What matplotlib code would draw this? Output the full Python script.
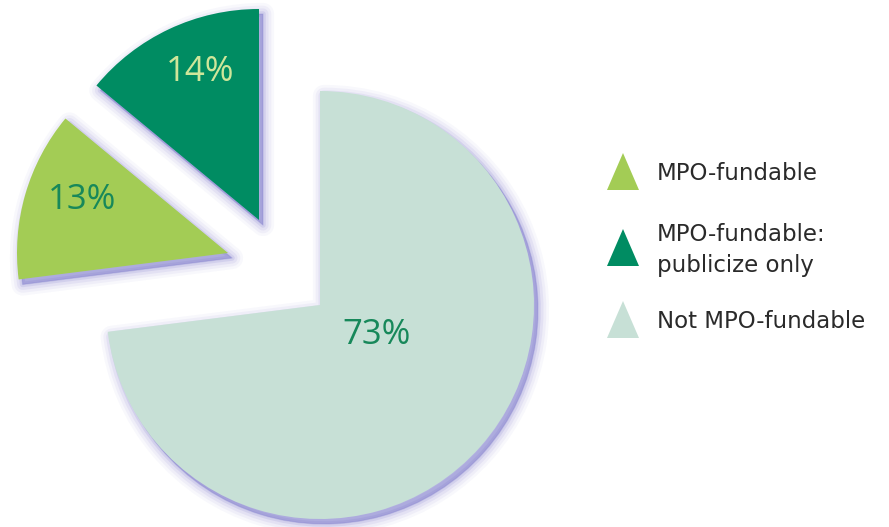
import matplotlib
matplotlib.use("Agg")
import matplotlib.pyplot as plt
from matplotlib.patches import Wedge, Polygon
import numpy as np

# ---- data ----
categories = ["MPO-fundable", "MPO-fundable:\npublicize only", "Not MPO-fundable"]
values = [13, 14, 73]
labels = ["13%", "14%", "73%"]

colors = ["#a3cc55", "#008c62", "#c7e0d6"]
label_colors = ["#17885a", "#cfe69a", "#17885a"]

W, H = 889, 527
fig = plt.figure(figsize=(W / 100, H / 100), dpi=100)
ax = fig.add_axes([0, 0, 1, 1])
ax.set_xlim(0, W)
ax.set_ylim(0, H)
ax.set_aspect("equal")
ax.axis("off")

# angles: big slice runs clockwise from 12 o'clock, small ones fill the rest
total = float(sum(values))
angles = {}
a0 = 90.0 - 360.0 * values[2] / total
angles[2] = (a0, 90.0)
angles[1] = (90.0, 90.0 + 360.0 * values[1] / total)
angles[0] = (angles[1][1], angles[1][1] + 360.0 * values[0] / total)

centers = {2: (320, H - 305), 1: (259, H - 220), 0: (228, H - 253)}
radii = {2: 214, 1: 211, 0: 211}
label_pos = {2: (377, H - 335), 1: (200, H - 72), 0: (82, H - 200)}

shadow = "#7c78cc"
order = [2, 1, 0]
for i in order:
    cx, cy = centers[i]
    t1, t2 = angles[i]
    for lw, al in [(16, 0.05), (12, 0.07), (8, 0.10), (4, 0.16), (1, 0.25)]:
        ax.add_patch(Wedge((cx + 4, cy - 5), radii[i], t1, t2,
                           facecolor=shadow, edgecolor=shadow, linewidth=lw,
                           alpha=al, joinstyle="round"))
for i in order:
    cx, cy = centers[i]
    t1, t2 = angles[i]
    ax.add_patch(Wedge((cx, cy), radii[i], t1, t2, facecolor=colors[i],
                       edgecolor="none"))
    ax.text(*label_pos[i], labels[i], color=label_colors[i], fontsize=25,
            family="Open Sans", ha="center", va="center")

# legend
leg_y = [H - 172, H - 248, H - 320]
for i, ly in enumerate(leg_y):
    tri = Polygon([(607, ly - 18), (639, ly - 18), (623, ly + 19)],
                  closed=True, facecolor=colors[i], edgecolor="none")
    ax.add_patch(tri)
    ax.text(657, ly - 2, categories[i], fontsize=16.5, family="DejaVu Sans",
            color="#2a2a2a", ha="left", va="center", linespacing=1.4)

fig.savefig("out.png", dpi=100)
